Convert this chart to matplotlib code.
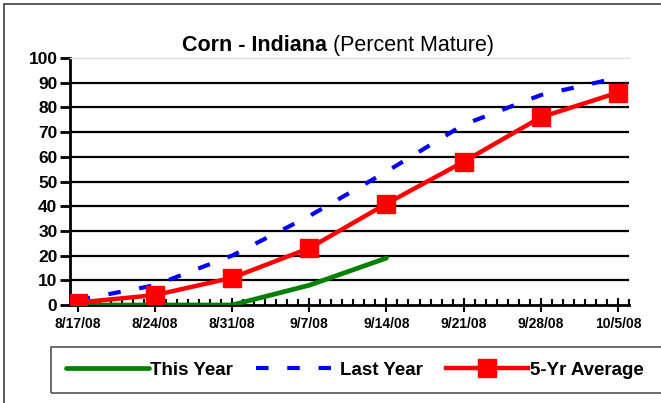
import datetime as dt
import matplotlib
matplotlib.use("Agg")
import matplotlib.pyplot as plt
import matplotlib.dates as mdates
from matplotlib.patches import Rectangle
from matplotlib.lines import Line2D

# -------------------
# DATA
# -------------------

week_labels = ["8/17/08", "8/24/08", "8/31/08", "9/7/08",
               "9/14/08", "9/21/08", "9/28/08", "10/5/08"]
weeks = [dt.datetime.strptime(s, "%m/%d/%y") for s in week_labels]

this_year = [0, 0, 0, 8, 19]
last_year = [2, 8, 20, 36, 54, 73, 85, 92]
five_yr_avg = [1, 4, 11, 23, 41, 58, 76, 86]

y_ticks = list(range(0, 101, 10))

# -------------------
# FIGURE
# -------------------

plt.rcParams["font.family"] = ["Liberation Sans", "DejaVu Sans"]

W, H = 661, 403
fig = plt.figure(figsize=(W / 100, H / 100), dpi=100)

# outer chart border
fig.patches.append(Rectangle((4 / W, -0.2), 2, 1.2 - 4 / H, transform=fig.transFigure,
                             fill=False, edgecolor="#404040", lw=1.2))

ax = fig.add_axes([70 / W, (H - 305) / H, (629 - 70) / W, (305 - 58) / H])

ax.plot(weeks, last_year, color="#0000ff", lw=3, dashes=(3, 4.5),
        dash_capstyle="butt", zorder=3)
ax.plot(weeks[:len(this_year)], this_year, color="#008000", lw=3.4,
        solid_capstyle="round", zorder=4)
ax.plot(weeks, five_yr_avg, color="#ff0000", lw=3.2, marker="s",
        markersize=12.5, zorder=5)

# -------------------
# AXES
# -------------------

ax.set_ylim(0, 100)
ax.set_yticks(y_ticks)
ax.set_xlim(weeks[0] - dt.timedelta(days=0.7), weeks[-1] + dt.timedelta(days=1))
ax.set_xticks(weeks)
ax.set_xticklabels(week_labels)
ax.xaxis.set_minor_locator(mdates.DayLocator())

for t in ax.get_xticklabels():
    t.set_fontweight("bold")
    t.set_fontsize(10)
for t in ax.get_yticklabels():
    t.set_fontweight("bold")
    t.set_fontsize(12.5)

ax.tick_params(axis="x", which="major", direction="inout", length=10, width=1.5, pad=4)
ax.tick_params(axis="x", which="minor", direction="in", length=4, width=1.5)
ax.tick_params(axis="y", which="major", direction="out", length=7, width=2, pad=2)

for y in y_ticks[1:-1]:
    ax.axhline(y, color="black", lw=1.6, zorder=1)

ax.spines["left"].set_linewidth(2)
ax.spines["bottom"].set_linewidth(2)
ax.spines["right"].set_visible(False)
ax.spines["top"].set_color("#dddddd")
ax.spines["top"].set_linewidth(1)

# -------------------
# TITLE
# -------------------

fig.text(327 / W, 1 - 51 / H, "Corn - Indiana", fontsize=15.5, fontweight="bold",
         ha="right", va="baseline")
fig.text(327 / W, 1 - 51 / H, " (Percent Mature)", fontsize=15.5,
         ha="left", va="baseline")

# -------------------
# LEGEND
# -------------------

fig.patches.append(Rectangle((51 / W, 1 - 393 / H), 2, (393 - 347) / H,
                             transform=fig.transFigure, fill=False,
                             edgecolor="#555555", lw=1.2))

handles = [
    Line2D([], [], color="#008000", lw=3.4, solid_capstyle="round"),
    Line2D([], [], color="#0000ff", lw=3, dashes=(3, 4.5), dash_capstyle="butt"),
    Line2D([], [], color="#ff0000", lw=3.2, marker="s", markersize=12.5),
]
fig.legend(handles, ["This Year", "Last Year", "5-Yr Average"], ncol=3,
           loc="center left", bbox_to_anchor=(66 / W, 1 - 370 / H),
           frameon=False, handlelength=4.4, handletextpad=0.1,
           columnspacing=1.2, borderaxespad=0, borderpad=0,
           prop={"weight": "bold", "size": 13.5})

fig.savefig("out.png", dpi=100)
